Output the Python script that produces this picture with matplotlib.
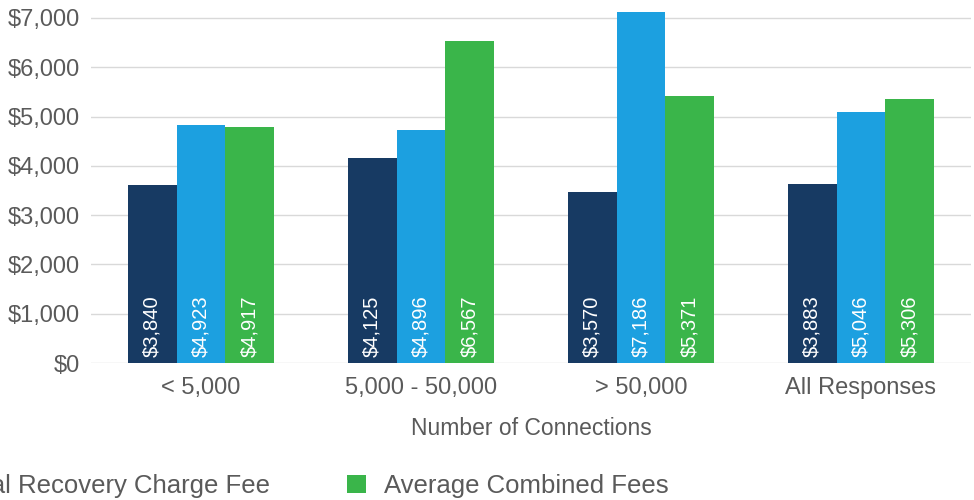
import numpy as np
import matplotlib.pyplot as plt

# groups along the x axis
groups = ['< 5,000', '5,000 - 50,000', '> 50,000', 'All Responses']

# bar heights as drawn in the picture
tap_fee = [3610, 4150, 3475, 3625]
capital_fee = [4820, 4730, 7120, 5085]
combined_fee = [4780, 6530, 5415, 5350]

# labels written inside the bars
tap_labels = ['$3,840', '$4,125', '$3,570', '$3,883']
capital_labels = ['$4,923', '$4,896', '$7,186', '$5,046']
combined_labels = ['$4,917', '$6,567', '$5,371', '$5,306']

series_names = ['Average Tap Fee', 'Average Capital Recovery Charge Fee',
                'Average Combined Fees']
colors = ['#173a63', '#1ca0e0', '#3ab54a']

yticks = [0, 1000, 2000, 3000, 4000, 5000, 6000, 7000]

plt.rcParams['font.family'] = ['Liberation Sans', 'DejaVu Sans']
text_color = '#5a5a5a'

fig = plt.figure(figsize=(9.74, 5.0), dpi=100)
ax = fig.add_axes([91 / 974, 1 - 363 / 500, 880 / 974, 363 / 500])

x = np.arange(len(groups))
w = 0.2227
all_vals = [tap_fee, capital_fee, combined_fee]
all_labels = [tap_labels, capital_labels, combined_labels]
for i, (vals, labs) in enumerate(zip(all_vals, all_labels)):
    pos = x + (i - 1) * w
    ax.bar(pos, vals, width=w, color=colors[i], label=series_names[i], zorder=3)
    for p, lab in zip(pos, labs):
        ax.annotate(lab, (p, 0), xytext=(0, 4), textcoords='offset points',
                    rotation=90, ha='center', va='bottom', color='white',
                    fontsize=14.5)

ax.set_xlim(-0.5, 3.5)
ax.set_ylim(0, 7365)
ax.set_yticks(yticks)
ax.set_yticklabels(['${:,}'.format(v) for v in yticks])
ax.set_xticks(x)
ax.set_xticklabels(groups)
ax.tick_params(axis='both', length=0, labelsize=17, colors=text_color)
ax.tick_params(axis='y', pad=8)
ax.tick_params(axis='x', pad=10)
ax.grid(axis='y', color='#d9d9d9', linewidth=1, zorder=0)
for s in ax.spines.values():
    s.set_visible(False)
ax.set_xlabel('Number of Connections', fontsize=16.5, color=text_color,
              labelpad=13)

fig.legend(loc='center right', bbox_to_anchor=(692 / 974, 1 - 486 / 500),
           ncol=3, frameon=False, fontsize=18.5, handlelength=0.75,
           handleheight=0.75, columnspacing=3.0, handletextpad=0.7,
           labelcolor=text_color)

fig.savefig('out.png', dpi=100)
